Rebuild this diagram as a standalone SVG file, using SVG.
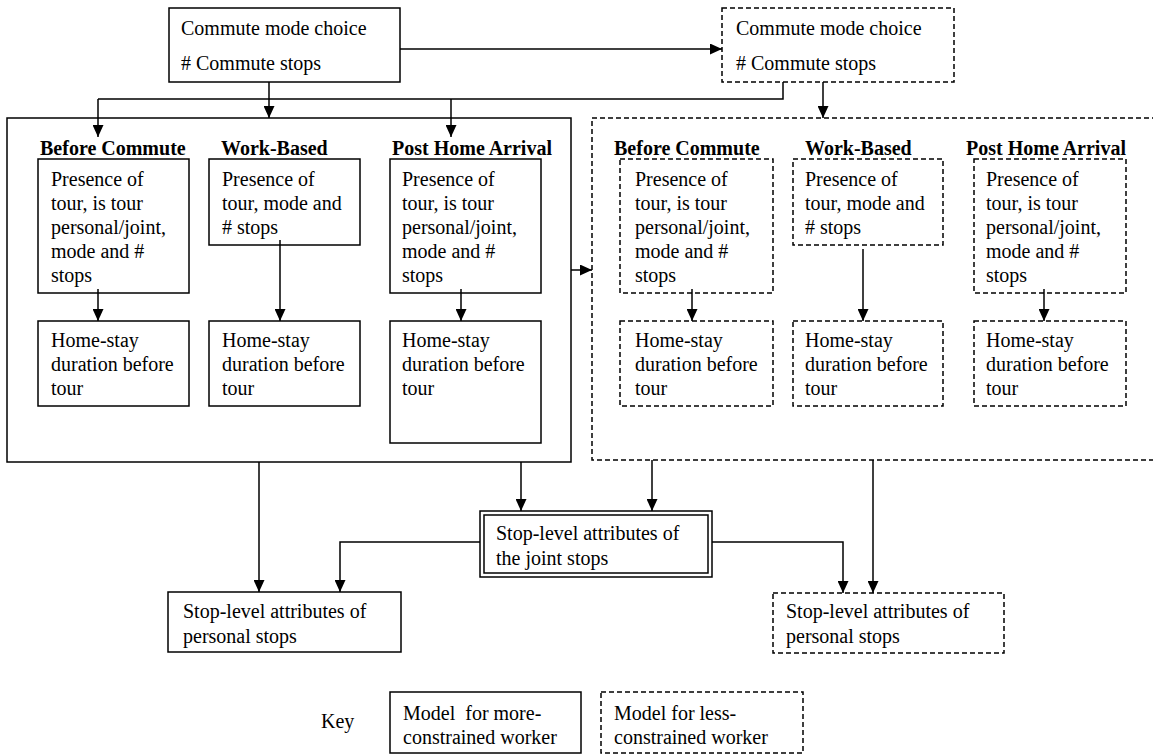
<svg xmlns="http://www.w3.org/2000/svg" width="1153" height="755" viewBox="0 0 1153 755">
  <style>
    text { font-family: "Liberation Serif", "Times New Roman", serif; font-size: 20px; fill: #000; white-space: pre; }
    .hdr { font-weight: bold; }
    .solid { fill: #fff; stroke: #000; stroke-width: 1.5; }
    .dash { fill: #fff; stroke: #000; stroke-width: 1.5; stroke-dasharray: 5 3; }
    .wire { fill: none; stroke: #000; stroke-width: 1.5; }
    .arr { fill: none; stroke: #000; stroke-width: 1.5; marker-end: url(#head); }
  </style>
  <defs>
    <marker id="head" viewBox="0 0 12 11" refX="12" refY="5.5" markerWidth="12" markerHeight="11" markerUnits="userSpaceOnUse" orient="auto">
      <path d="M0,0 L12,5.5 L0,11 z" fill="#000"/>
    </marker>
  </defs>

  <rect width="1153" height="755" fill="#fff"/>

  <!-- outer panels -->
  <g id="panel-more">
    <rect class="solid" x="7" y="118" width="564" height="344"/>
  </g>
  <g id="panel-less">
    <rect class="dash" x="592" y="118" width="570" height="342"/>
  </g>

  <!-- commute mode choice, more-constrained -->
  <g id="commute-more">
    <rect class="solid" x="169" y="8" width="231" height="74"/>
    <text x="181" y="35">Commute mode choice</text>
    <text x="181" y="70"># Commute stops</text>
  </g>
  <!-- commute mode choice, less-constrained -->
  <g id="commute-less">
    <rect class="dash" x="722" y="8" width="232" height="74"/>
    <text x="736" y="35">Commute mode choice</text>
    <text x="736" y="70"># Commute stops</text>
  </g>

  <!-- more-constrained sub-models -->
  <g id="more-headers">
    <text class="hdr" x="40" y="155">Before Commute</text>
    <text class="hdr" x="221" y="155">Work-Based</text>
    <text class="hdr" x="392" y="155">Post Home Arrival</text>
  </g>
  <g id="more-before-tour">
    <rect class="solid" x="38" y="159" width="151" height="134"/>
    <text x="51" y="186">Presence of</text>
    <text x="51" y="210">tour, is tour</text>
    <text x="51" y="234">personal/joint,</text>
    <text x="51" y="258">mode and #</text>
    <text x="51" y="282">stops</text>
  </g>
  <g id="more-before-home">
    <rect class="solid" x="38" y="321" width="151" height="85"/>
    <text x="51" y="347">Home-stay</text>
    <text x="51" y="371">duration before</text>
    <text x="51" y="395">tour</text>
  </g>
  <g id="more-work-tour">
    <rect class="solid" x="209" y="159" width="151" height="86"/>
    <text x="222" y="186">Presence of</text>
    <text x="222" y="210">tour, mode and</text>
    <text x="222" y="234"># stops</text>
  </g>
  <g id="more-work-home">
    <rect class="solid" x="209" y="321" width="151" height="85"/>
    <text x="222" y="347">Home-stay</text>
    <text x="222" y="371">duration before</text>
    <text x="222" y="395">tour</text>
  </g>
  <g id="more-post-tour">
    <rect class="solid" x="390" y="159" width="151" height="134"/>
    <text x="402" y="186">Presence of</text>
    <text x="402" y="210">tour, is tour</text>
    <text x="402" y="234">personal/joint,</text>
    <text x="402" y="258">mode and #</text>
    <text x="402" y="282">stops</text>
  </g>
  <g id="more-post-home">
    <rect class="solid" x="390" y="321" width="151" height="122"/>
    <text x="402" y="347">Home-stay</text>
    <text x="402" y="371">duration before</text>
    <text x="402" y="395">tour</text>
  </g>

  <!-- less-constrained sub-models -->
  <g id="less-headers">
    <text class="hdr" x="614" y="155">Before Commute</text>
    <text class="hdr" x="805" y="155">Work-Based</text>
    <text class="hdr" x="966" y="155">Post Home Arrival</text>
  </g>
  <g id="less-before-tour">
    <rect class="dash" x="620" y="159" width="153" height="134"/>
    <text x="635" y="186">Presence of</text>
    <text x="635" y="210">tour, is tour</text>
    <text x="635" y="234">personal/joint,</text>
    <text x="635" y="258">mode and #</text>
    <text x="635" y="282">stops</text>
  </g>
  <g id="less-before-home">
    <rect class="dash" x="620" y="321" width="153" height="85"/>
    <text x="635" y="347">Home-stay</text>
    <text x="635" y="371">duration before</text>
    <text x="635" y="395">tour</text>
  </g>
  <g id="less-work-tour">
    <rect class="dash" x="793" y="159" width="150" height="86"/>
    <text x="805" y="186">Presence of</text>
    <text x="805" y="210">tour, mode and</text>
    <text x="805" y="234"># stops</text>
  </g>
  <g id="less-work-home">
    <rect class="dash" x="793" y="321" width="150" height="85"/>
    <text x="805" y="347">Home-stay</text>
    <text x="805" y="371">duration before</text>
    <text x="805" y="395">tour</text>
  </g>
  <g id="less-post-tour">
    <rect class="dash" x="974" y="159" width="152" height="134"/>
    <text x="986" y="186">Presence of</text>
    <text x="986" y="210">tour, is tour</text>
    <text x="986" y="234">personal/joint,</text>
    <text x="986" y="258">mode and #</text>
    <text x="986" y="282">stops</text>
  </g>
  <g id="less-post-home">
    <rect class="dash" x="974" y="321" width="152" height="85"/>
    <text x="986" y="347">Home-stay</text>
    <text x="986" y="371">duration before</text>
    <text x="986" y="395">tour</text>
  </g>

  <!-- stop-level models -->
  <g id="joint-stops">
    <rect class="solid" x="480" y="511" width="232" height="66"/>
    <rect class="solid" x="484" y="515" width="224" height="58"/>
    <text x="496" y="540">Stop-level attributes of</text>
    <text x="496" y="565">the joint stops</text>
  </g>
  <g id="personal-more">
    <rect class="solid" x="168" y="592" width="233" height="60"/>
    <text x="183" y="618">Stop-level attributes of</text>
    <text x="183" y="643">personal stops</text>
  </g>
  <g id="personal-less">
    <rect class="dash" x="773" y="593" width="231" height="60"/>
    <text x="786" y="618">Stop-level attributes of</text>
    <text x="786" y="643">personal stops</text>
  </g>

  <!-- key -->
  <g id="key">
    <text x="321" y="728">Key</text>
    <rect class="solid" x="390" y="692" width="191" height="61"/>
    <text x="403" y="720">Model  for more-</text>
    <text x="403" y="744">constrained worker</text>
    <rect class="dash" x="601" y="692" width="202" height="61"/>
    <text x="614" y="720">Model for less-</text>
    <text x="614" y="744">constrained worker</text>
  </g>

  <!-- connectors -->
  <g id="connectors">
    <line class="arr" x1="400" y1="49" x2="722" y2="49"/>
    <line class="arr" x1="269" y1="82" x2="269" y2="118"/>
    <polyline class="wire" points="783,82 783,99 98,99"/>
    <line class="arr" x1="98" y1="99" x2="98" y2="137"/>
    <line class="arr" x1="451" y1="99" x2="451" y2="137"/>
    <line class="arr" x1="823" y1="82" x2="823" y2="118"/>

    <line class="arr" x1="98" y1="289" x2="98" y2="321"/>
    <line class="arr" x1="280" y1="240" x2="280" y2="321"/>
    <line class="arr" x1="461" y1="289" x2="461" y2="321"/>
    <line class="arr" x1="692" y1="289" x2="692" y2="321"/>
    <line class="arr" x1="863" y1="249" x2="863" y2="321"/>
    <line class="arr" x1="1044" y1="289" x2="1044" y2="321"/>

    <line class="arr" x1="571" y1="270" x2="592" y2="270"/>

    <line class="arr" x1="259" y1="462" x2="259" y2="592"/>
    <line class="arr" x1="521" y1="462" x2="521" y2="511"/>
    <line class="arr" x1="652" y1="460" x2="652" y2="511"/>
    <line class="arr" x1="873" y1="460" x2="873" y2="593"/>
    <polyline class="arr" points="480,542 340,542 340,592"/>
    <polyline class="arr" points="712,542 843,542 843,593"/>
  </g>
</svg>
